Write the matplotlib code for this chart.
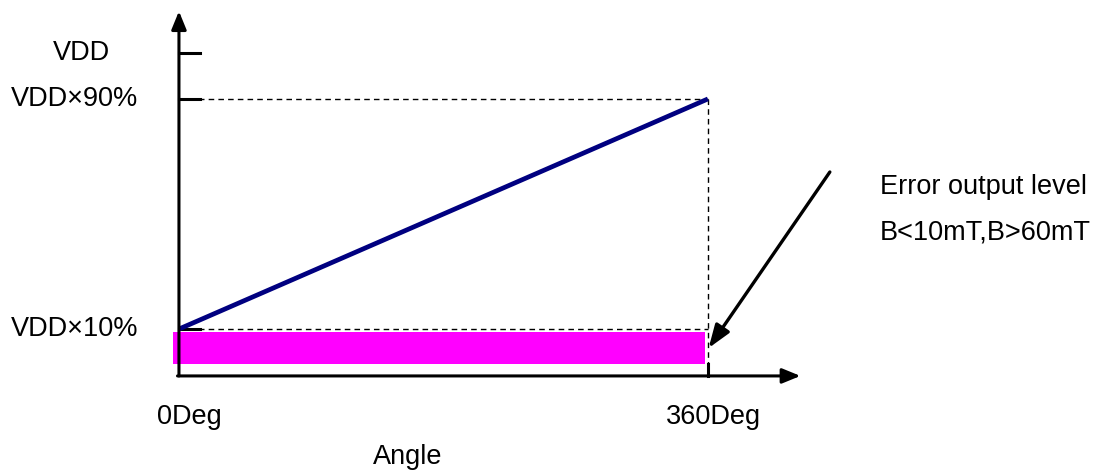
import matplotlib
matplotlib.use("Agg")
import matplotlib.pyplot as plt

plt.rcParams["font.family"] = ["Liberation Sans", "DejaVu Sans"]

# transfer curve: angle (deg) -> output (fraction of VDD)
angle_deg = [0, 360]
output_frac = [0.1, 0.9]

# y-axis marks
ytick_vals = [1.06, 0.9, 0.1]
ytick_labels = ["VDD", "VDD×90%", "VDD×10%"]

# x-axis labels
xtick_vals = [0, 360]
xtick_labels = ["0Deg", "360Deg"]

# error output band
err_x = [-4, 358]
err_lo, err_hi = -0.022, 0.09

note_lines = ["Error output level", "B<10mT,B>60mT"]

AXIS_Y = -0.063
TICK_LEN = 14
FS = 19.5
ARROW = "-|>,head_length=1.1,head_width=0.45"

fig = plt.figure(figsize=(11.09, 4.72), dpi=100)
ax = fig.add_axes([0, 0, 1, 1])
ax.set_xlim(-121.8, 633.0)
ax.set_ylim(-0.397, 1.244)
ax.axis("off")

# error band
ax.fill_between(err_x, err_lo, err_hi, color="#ff00ff", lw=0, zorder=2)

# dashed guides
dash = dict(ls=(0, (4, 3)), color="black", lw=1, zorder=1)
ax.plot([0, angle_deg[1]], [output_frac[1]] * 2, **dash)
ax.plot([0, angle_deg[1]], [output_frac[0]] * 2, **dash)
ax.plot([angle_deg[1]] * 2, [output_frac[1], AXIS_Y], **dash)

# curve
ax.plot(angle_deg, output_frac, color="#000080", lw=3.4, solid_capstyle="butt", zorder=4)

# axes with arrows
ax.annotate("", xy=(0, 1.205), xytext=(0, AXIS_Y),
            arrowprops=dict(arrowstyle=ARROW, color="black", lw=2.2, shrinkA=0, shrinkB=0), zorder=5)
ax.annotate("", xy=(423, AXIS_Y), xytext=(-1, AXIS_Y),
            arrowprops=dict(arrowstyle=ARROW, color="black", lw=2.2, shrinkA=0, shrinkB=0), zorder=5)

# y ticks and labels
ylab_x = [-66.7, -70.8, -70.8]
for v, lab, lx in zip(ytick_vals, ytick_labels, ylab_x):
    ax.plot([0, TICK_LEN], [v, v], color="black", lw=2.2, zorder=3)
    ax.text(lx, v, lab, ha="center", va="center", fontsize=FS)

# x tick at 360
ax.plot([360, 360], [AXIS_Y, err_lo], color="black", lw=2.2, zorder=3)
for v, lab, dx in zip(xtick_vals, xtick_labels, [7, 3.5]):
    ax.text(v + dx, -0.205, lab, ha="center", va="center", fontsize=FS)
ax.text(156, -0.345, "Angle", ha="center", va="center", fontsize=FS)

# error annotation
ax.annotate("", xy=(360.5, 0.034), xytext=(443, 0.646),
            arrowprops=dict(arrowstyle="-|>,head_length=1.4,head_width=0.5", color="black", lw=2.4,
                            shrinkA=0, shrinkB=0), zorder=5)
ax.text(477, 0.595, note_lines[0], ha="left", va="center", fontsize=FS)
ax.text(477, 0.435, note_lines[1], ha="left", va="center", fontsize=FS)

fig.savefig("out.png", dpi=100)
